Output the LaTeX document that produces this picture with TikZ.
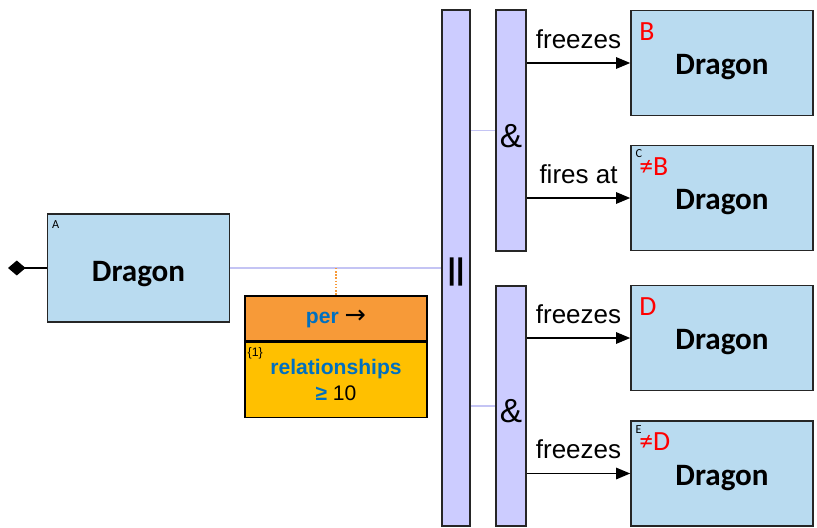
\documentclass[tikz,border=0pt]{standalone}
\usepackage{fontspec}
\setmainfont{Liberation Sans}
\newfontfamily\calibri{Carlito}
\newfontfamily\dejavu{DejaVu Sans}
\usetikzlibrary{arrows.meta}
\definecolor{dragonblue}{HTML}{B9DBF0}
\definecolor{barlilac}{HTML}{CCCCFF}
\definecolor{linklilac}{HTML}{C4C4F4}
\definecolor{perorange}{HTML}{F79A38}
\definecolor{relyellow}{HTML}{FFC000}
\definecolor{textblue}{HTML}{0070C0}

\begin{document}
\begin{tikzpicture}[x=0.02cm, y=-0.02cm,
  entity/.style={draw=black!85, line width=0.9pt, fill=dragonblue, inner sep=0pt,
    minimum width=3.64cm, minimum height=2.1cm, text height=13.1pt, text depth=0pt,
    font=\calibri\bfseries\fontsize{17.7}{20}\selectfont},
  bar/.style={draw=black!85, line width=0.9pt, fill=barlilac, inner sep=0pt,
    text height=19pt, text depth=0pt, font=\fontsize{19}{20}\selectfont},
  perbox/.style={draw=black, line width=0.9pt, inner sep=0pt, minimum width=3.64cm,
    align=center, font=\fontsize{12}{14.6}\selectfont},
  link/.style={linklilac, line width=0.8pt},
  rel/.style={-{Triangle[length=8pt,width=6.5pt]}, line width=0.8pt},
  verb/.style={inner sep=0pt, font=\fontsize{14.8}{16}\selectfont},
  tag/.style={inner sep=0pt, anchor=base west, font=\calibri\fontsize{7}{8}\selectfont},
  role/.style={inner sep=0pt, anchor=base west, text=red, font=\calibri\fontsize{15.8}{17}\selectfont}]
\useasboundingbox (0,0) rectangle (817,527);

% the dragon on the left and its per-condition
\node[entity, minimum height=2.16cm, text height=15.6pt] (A) at (138.5,268) {Dragon};
\node[tag] (tagA) at ([xshift=2.8pt, yshift=-8.5pt]A.north west) {A};
\coordinate (tip) at (8,268);
\draw[line width=0.8pt, -{Diamond[length=10pt,width=8.5pt]}] (A.west) -- (tip);

\node[perbox, fill=perorange, minimum height=0.9cm] (per) at (336,318.5)
  {\textcolor{textblue}{\bfseries per} {\dejavu\fontsize{14.5}{14.6}\selectfont →}};
\node[perbox, fill=relyellow, minimum height=1.5cm, anchor=north] (rels) at (per.south)
  {\textcolor{textblue}{\bfseries relationships}\\\textcolor{textblue}{\bfseries ≥} 10};
\node[inner sep=0pt, anchor=north west, font=\fontsize{7}{8}\selectfont] (count)
  at ([xshift=1.8pt, yshift=-3.2pt]rels.north west) {\{1\}};

% parallel bar and the two and-bars
\node[bar, minimum width=0.56cm, minimum height=10.32cm, text height=12.8pt,
  font=\bfseries\fontsize{17}{17}\selectfont] (par) at (456,268) {||};
\node[bar, minimum width=0.6cm, minimum height=4.82cm] (amp1) at (511,130.5) {\&};
\node[bar, minimum width=0.6cm, minimum height=4.8cm] (amp2) at (511,406) {\&};

\draw[link] (A.east) -- (A.east -| par.west);
\draw[perorange, densely dotted, line width=0.8pt] (per.north |- A.east) -- (per.north);
\draw[link] (par.east |- amp1.west) -- (amp1.west);
\draw[link] (par.east |- amp2.west) -- (amp2.west);

% target dragons
\foreach \n/\y/\a/\v in {B/63/amp1/freezes, C/198/amp1/fires at, D/338/amp2/freezes, E/473.5/amp2/freezes} {
  \node[entity] (\n) at (722,\y) {Dragon};
  \draw[rel] (\a.east |- \n.west) -- node[verb, above=7.9pt] {\v} (\n.west);
}
\node[role] (roleB) at ([xshift=5pt, yshift=-17.4pt]B.north west) {B};
\node[role] (roleC) at ([xshift=5pt, yshift=-17.4pt]C.north west) {≠B};
\node[role] (roleD) at ([xshift=5pt, yshift=-17.4pt]D.north west) {D};
\node[role] (roleE) at ([xshift=5pt, yshift=-17.4pt]E.north west) {≠D};
\node[tag] (tagC) at ([xshift=2.8pt, yshift=-7.5pt]C.north west) {C};
\node[tag] (tagE) at ([xshift=2.8pt, yshift=-7.5pt]E.north west) {E};
\end{tikzpicture}
\end{document}
